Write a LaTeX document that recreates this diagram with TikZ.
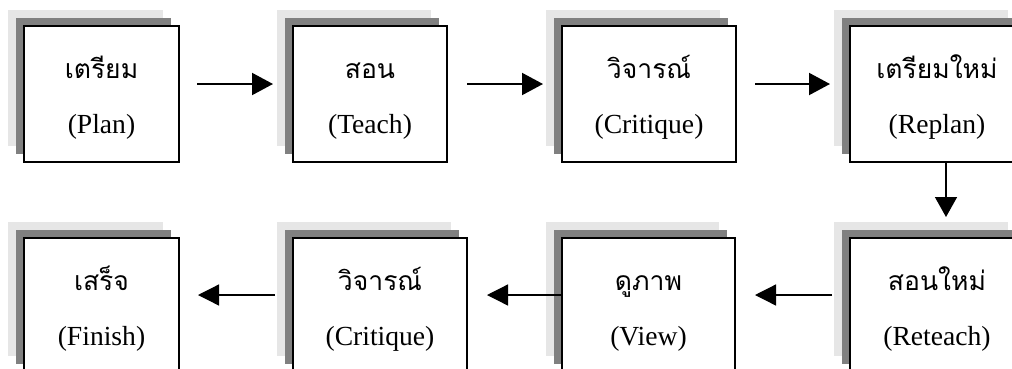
\documentclass[tikz,border=0pt]{standalone}
\usepackage{fontspec}
\setmainfont{Liberation Serif}
\newfontfamily\thaifont[Script=Thai]{Loma}
\usetikzlibrary{arrows.meta,calc}
\definecolor{shlight}{RGB}{230,230,230}
\definecolor{shdark}{RGB}{128,128,128}
\tikzset{
  stagebox/.style={draw=black, line width=1.4pt, fill=white, inner sep=0pt, outer sep=0pt, anchor=north west},
  thaitext/.style={anchor=base, inner sep=0pt, font=\thaifont\fontsize{26.5}{30}\selectfont},
  engtext/.style={anchor=base, inner sep=0pt, font=\fontsize{27.6}{32}\selectfont},
  toparrow/.style={line width=2pt, -{Triangle[length=21pt,width=22pt]}},
  downarrow/.style={line width=1.5pt, -{Triangle[length=20pt,width=22pt]}},
  botarrow/.style={line width=1.3pt, -{Triangle[length=21pt,width=21pt]}},
}
% name, left, top, width, height, thai, english
\newcommand\mkstage[7]{%
  \fill[shlight] (#2-16,-#3+16) rectangle ++(#4,-#5);
  \fill[shdark] (#2-8,-#3+8) rectangle ++(#4,-#5);
  \node[stagebox, minimum width=#4pt, minimum height=#5pt] (#1) at (#2,-#3) {};
  \node[thaitext] (#1-t) at ([yshift=-52pt]#1.north) {#6};
  \node[engtext] (#1-e) at ([yshift=-107pt]#1.north) {#7};
}
\begin{document}
\begin{tikzpicture}[x=1pt,y=1pt]
\useasboundingbox (0,0) rectangle (1012,-368);
\clip (0,0) rectangle (1012,-368);
\mkstage{plan}{24}{26}{155}{136}{เตรียม}{(Plan)}
\mkstage{teach}{293}{26}{154}{136}{สอน}{(Teach)}
\mkstage{crita}{562}{26}{174}{136}{วิจารณ์}{(Critique)}
\mkstage{replan}{850}{26}{174}{136}{เตรียมใหม่}{(Replan)}
\mkstage{finish}{24}{238}{155}{134}{เสร็จ}{(Finish)}
\mkstage{critb}{293}{238}{174}{134}{วิจารณ์}{(Critique)}
\mkstage{view}{562}{238}{173}{134}{ดูภาพ}{(View)}
\mkstage{reteach}{850}{238}{174}{134}{สอนใหม่}{(Reteach)}
\draw[toparrow] ([xshift=18pt,yshift=10pt]plan.east) -- ([xshift=-20pt,yshift=10pt]teach.west);
\draw[toparrow] ([xshift=20pt,yshift=10pt]teach.east) -- ([xshift=-19pt,yshift=10pt]crita.west);
\draw[toparrow] ([xshift=19pt,yshift=10pt]crita.east) -- ([xshift=-20pt,yshift=10pt]replan.west);
\draw[downarrow] ([xshift=9pt]replan.south) -- ([xshift=9pt,yshift=21pt]reteach.north);
\draw[botarrow] ([xshift=-18pt,yshift=10pt]reteach.west) -- ([xshift=20pt,yshift=10pt]view.east);
\draw[botarrow] ([yshift=10pt]view.west) -- ([xshift=20pt,yshift=10pt]critb.east);
\draw[botarrow] ([xshift=-18pt,yshift=10pt]critb.west) -- ([xshift=19pt,yshift=10pt]finish.east);
\end{tikzpicture}
\end{document}
